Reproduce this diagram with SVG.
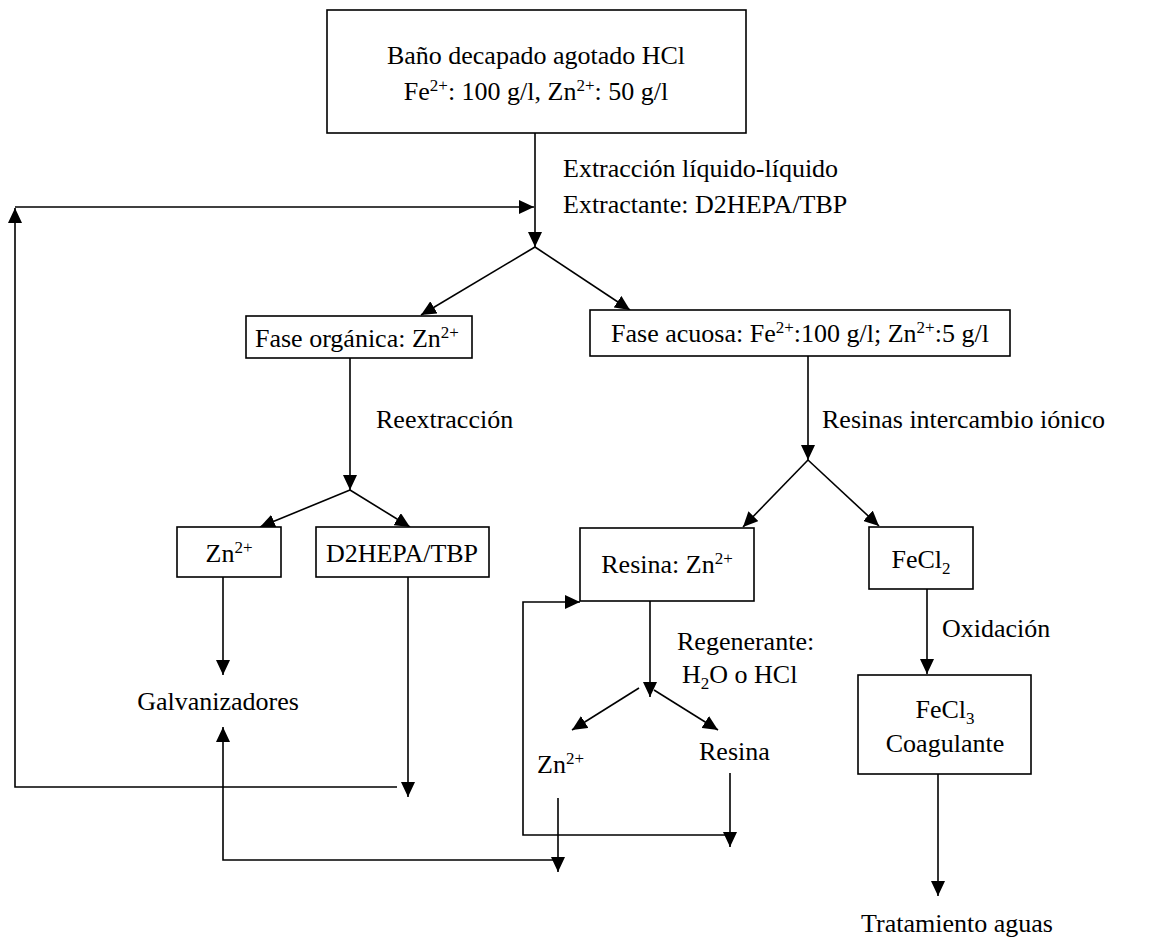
<svg xmlns="http://www.w3.org/2000/svg" width="1153" height="937" viewBox="0 0 1153 937">
<style>
.box{fill:#fff;stroke:#000;stroke-width:1.6}
.ln{fill:none;stroke:#000;stroke-width:1.6}
text{font-family:"Liberation Serif","Times New Roman",serif;font-size:26px;fill:#000}
.c{text-anchor:middle}
</style>
<defs>
<marker id="ah" markerUnits="userSpaceOnUse" markerWidth="16" markerHeight="14" refX="15" refY="7" orient="auto" viewBox="0 0 16 14">
<path d="M0,0 L15,7 L0,14 z" fill="#000"/>
</marker>
</defs>
<rect width="1153" height="937" fill="#fff"/>
<g id="connectors">
<line class="ln" x1="535" y1="133" x2="535" y2="247" marker-end="url(#ah)"/>
<line class="ln" x1="15" y1="207" x2="534" y2="207" marker-end="url(#ah)"/>
<polyline class="ln" points="397,787 15,787 15,208" marker-end="url(#ah)"/>
<line class="ln" x1="535" y1="247" x2="421" y2="315" marker-end="url(#ah)"/>
<line class="ln" x1="535" y1="247" x2="630" y2="310" marker-end="url(#ah)"/>
<line class="ln" x1="350" y1="358" x2="350" y2="490" marker-end="url(#ah)"/>
<line class="ln" x1="350" y1="490" x2="260" y2="527" marker-end="url(#ah)"/>
<line class="ln" x1="350" y1="490" x2="410" y2="527" marker-end="url(#ah)"/>
<line class="ln" x1="223" y1="577" x2="223" y2="675" marker-end="url(#ah)"/>
<line class="ln" x1="408" y1="577" x2="408" y2="797" marker-end="url(#ah)"/>
<polyline class="ln" points="558,860 223,860 223,727" marker-end="url(#ah)"/>
<line class="ln" x1="558" y1="798" x2="558" y2="872" marker-end="url(#ah)"/>
<line class="ln" x1="808" y1="356" x2="808" y2="460" marker-end="url(#ah)"/>
<line class="ln" x1="808" y1="460" x2="743" y2="527" marker-end="url(#ah)"/>
<line class="ln" x1="808" y1="460" x2="879" y2="526" marker-end="url(#ah)"/>
<line class="ln" x1="650" y1="601" x2="650" y2="697" marker-end="url(#ah)"/>
<line class="ln" x1="639" y1="688" x2="572" y2="730" marker-end="url(#ah)"/>
<line class="ln" x1="654" y1="690" x2="718" y2="730" marker-end="url(#ah)"/>
<line class="ln" x1="730" y1="773" x2="730" y2="847" marker-end="url(#ah)"/>
<polyline class="ln" points="730,835 523,835 523,602 580,602" marker-end="url(#ah)"/>
<line class="ln" x1="927" y1="589" x2="927" y2="674" marker-end="url(#ah)"/>
<line class="ln" x1="938" y1="774" x2="938" y2="896" marker-end="url(#ah)"/>
</g>
<g id="n_bano">
<rect class="box" x="327" y="10" width="419" height="123"/>
<text class="c" x="536" y="64">Baño decapado agotado HCl</text>
<text class="c" x="536" y="100">Fe<tspan font-size="17" dy="-9">2+</tspan><tspan dy="9">: 100 g/l, Zn</tspan><tspan font-size="17" dy="-9">2+</tspan><tspan dy="9">: 50 g/l</tspan></text>
</g>
<g id="l_extraccion">
<text x="563" y="177">Extracción líquido-líquido</text>
<text x="563" y="213">Extractante: D2HEPA/TBP</text>
</g>
<g id="n_organica">
<rect class="box" x="246" y="316" width="226" height="42"/>
<text x="255" y="347">Fase orgánica: Zn<tspan font-size="17" dy="-9">2+</tspan></text>
</g>
<g id="n_acuosa">
<rect class="box" x="590" y="310" width="420" height="46"/>
<text class="c" x="800" y="342">Fase acuosa: Fe<tspan font-size="17" dy="-9">2+</tspan><tspan dy="9">:100 g/l; Zn</tspan><tspan font-size="17" dy="-9">2+</tspan><tspan dy="9">:5 g/l</tspan></text>
</g>
<g id="l_reextraccion"><text x="376" y="428">Reextracción</text></g>
<g id="l_resinas"><text x="822" y="428">Resinas intercambio iónico</text></g>
<g id="n_zn1">
<rect class="box" x="177" y="527" width="104" height="50"/>
<text class="c" x="229" y="562">Zn<tspan font-size="17" dy="-9">2+</tspan></text>
</g>
<g id="n_d2hepa">
<rect class="box" x="316" y="527" width="173" height="50"/>
<text class="c" x="402" y="562">D2HEPA/TBP</text>
</g>
<g id="n_galv"><text class="c" x="218" y="710">Galvanizadores</text></g>
<g id="n_resina_zn">
<rect class="box" x="580" y="528" width="174" height="73"/>
<text class="c" x="667" y="573">Resina: Zn<tspan font-size="17" dy="-9">2+</tspan></text>
</g>
<g id="l_regenerante">
<text x="677" y="650">Regenerante:</text>
<text x="682" y="683">H<tspan font-size="17" dy="6">2</tspan><tspan dy="-6">O o HCl</tspan></text>
</g>
<g id="n_zn2"><text x="537" y="773">Zn<tspan font-size="17" dy="-9">2+</tspan></text></g>
<g id="n_resina"><text x="699" y="760">Resina</text></g>
<g id="n_fecl2">
<rect class="box" x="869" y="527" width="104" height="62"/>
<text class="c" x="921" y="568">FeCl<tspan font-size="17" dy="6">2</tspan></text>
</g>
<g id="l_oxidacion"><text x="942" y="637">Oxidación</text></g>
<g id="n_fecl3">
<rect class="box" x="858" y="675" width="173" height="99"/>
<text class="c" x="945" y="718">FeCl<tspan font-size="17" dy="6">3</tspan></text>
<text class="c" x="945" y="752">Coagulante</text>
</g>
<g id="n_tratamiento"><text x="861" y="932">Tratamiento aguas</text></g>
</svg>
